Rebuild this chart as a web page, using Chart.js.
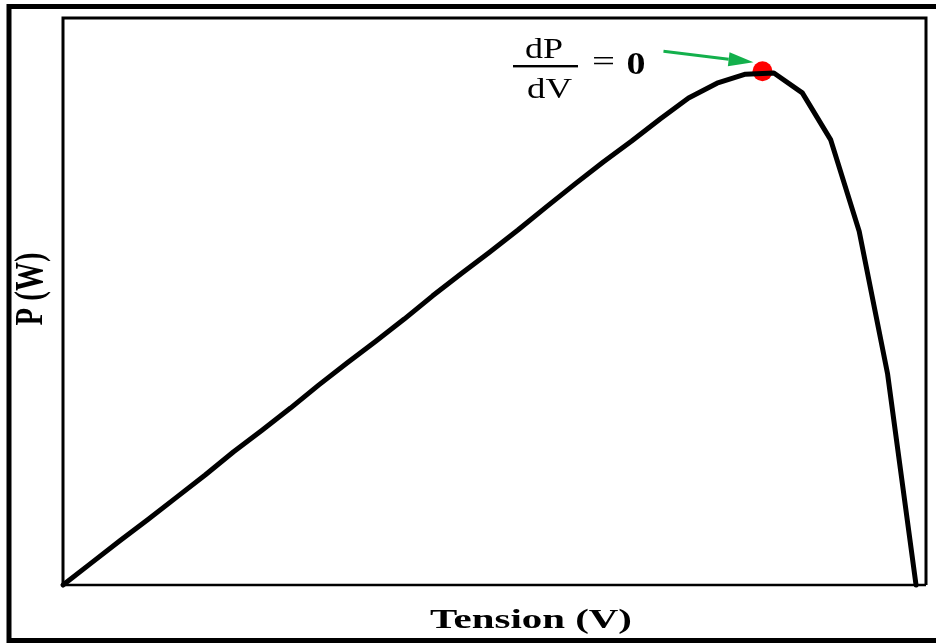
<!DOCTYPE html>
<html>
<head>
<meta charset="utf-8">
<script src="https://cdn.jsdelivr.net/npm/chart.js@4.4.1/dist/chart.umd.min.js"></script>
<style>
    html, body { margin: 0; padding: 0; background: #fff; }
    #wrap { width: 936px; height: 644px; position: relative; }
</style>
</head>
<body>
<div id="wrap"><canvas id="pvChart" width="936" height="644"></canvas></div>
<script>
// P-V curve of the panel (voltage steps, power)
const voltage = [0, 1, 2, 3, 4, 5, 6, 7, 8, 9, 10, 11, 12, 13, 14, 15,
                 16, 17, 18, 19, 20, 21, 22, 23, 24, 25, 26, 27, 28, 29, 30];
const power = [0, 3.9, 7.8, 11.6, 15.5, 19.4, 23.5, 27.3, 31.2, 35.3, 39.2,
               43.0, 46.9, 51.0, 54.9, 58.7, 62.6, 66.7, 70.7, 74.6, 78.3,
               82.2, 85.9, 88.5, 90.1, 90.3, 86.8, 78.5, 62.4, 37.2, 0];

// maximum power point
const mppVoltage = [24.6];
const mppPower = [90.6];

const axisTitleX = 'Tension (V)';
const axisTitleY = 'P (W)';

// draw text squeezed/stretched horizontally to a given width
function drawFit(ctx, text, font, cx, baseline, width) {
    ctx.save();
    ctx.font = font;
    const w = ctx.measureText(text).width;
    ctx.translate(cx, baseline);
    ctx.scale(width / w, 1);
    ctx.textAlign = 'center';
    ctx.textBaseline = 'alphabetic';
    ctx.fillText(text, 0, 0);
    ctx.restore();
}

const framePlugin = {
    id: 'frame',
    beforeDatasetsDraw(chart) {
        const ctx = chart.ctx;
        const a = chart.chartArea;
        ctx.save();
        ctx.strokeStyle = '#000';
        // outer border
        ctx.lineWidth = 5;
        ctx.strokeRect(9, 6.5, 1000, 634);
        // plot box
        ctx.lineWidth = 3;
        ctx.beginPath();
        ctx.moveTo(a.left, a.bottom);
        ctx.lineTo(a.left, a.top);
        ctx.lineTo(a.right, a.top);
        ctx.lineTo(a.right, a.bottom);
        ctx.stroke();
        ctx.lineWidth = 2.5;
        ctx.beginPath();
        ctx.moveTo(a.left, a.bottom);
        ctx.lineTo(a.right, a.bottom);
        ctx.stroke();

        // axis titles
        ctx.fillStyle = '#000';
        drawFit(ctx, axisTitleX, 'bold 28px "Liberation Serif"', 531, 628, 202);
        ctx.save();
        ctx.translate(42, 289);
        ctx.rotate(-Math.PI / 2);
        ctx.scale(1, 1.37);
        drawFit(ctx, axisTitleY, 'bold 29px "Liberation Serif"', 0, 0, 73);
        ctx.restore();
        ctx.restore();
    },
    afterDatasetsDraw(chart) {
        const ctx = chart.ctx;
        const dot = chart.getDatasetMeta(1).data[0];
        ctx.save();
        ctx.fillStyle = '#000';
        // dP/dV = 0 label
        drawFit(ctx, 'dP', '30px "Liberation Serif"', 544, 58, 38);
        drawFit(ctx, 'dV', '30px "Liberation Serif"', 549.5, 98, 45);
        ctx.fillRect(513, 65, 65, 2.4);
        drawFit(ctx, '=', '30px "Liberation Serif"', 603.5, 71, 23);
        drawFit(ctx, '0', 'bold 31px "Liberation Serif"', 636, 74, 19);

        // green arrow to the maximum point
        const tipX = dot.x - 9, tipY = dot.y - 9;
        const tailX = tipX - 90, tailY = tipY - 11;
        const ang = Math.atan2(tipY - tailY, tipX - tailX);
        const headLen = 25, headW = 7;
        ctx.strokeStyle = '#13b04c';
        ctx.fillStyle = '#13b04c';
        ctx.lineWidth = 3;
        ctx.beginPath();
        ctx.moveTo(tailX, tailY);
        ctx.lineTo(tipX - headLen * Math.cos(ang), tipY - headLen * Math.sin(ang));
        ctx.stroke();
        ctx.beginPath();
        ctx.moveTo(tipX, tipY);
        ctx.lineTo(tipX - headLen * Math.cos(ang) + headW * Math.sin(ang),
                   tipY - headLen * Math.sin(ang) - headW * Math.cos(ang));
        ctx.lineTo(tipX - headLen * Math.cos(ang) - headW * Math.sin(ang),
                   tipY - headLen * Math.sin(ang) + headW * Math.cos(ang));
        ctx.closePath();
        ctx.fill();
        ctx.restore();
    }
};

const ctx = document.getElementById('pvChart').getContext('2d');
new Chart(ctx, {
    type: 'line',
    data: {
        datasets: [
            {
                data: voltage.map((v, i) => ({ x: v, y: power[i] })),
                borderColor: '#000',
                borderWidth: 5,
                borderJoinStyle: 'round',
                borderCapStyle: 'round',
                pointRadius: 0,
                tension: 0,
                fill: false,
                clip: false
            },
            {
                type: 'scatter',
                data: mppVoltage.map((v, i) => ({ x: v, y: mppPower[i] })),
                backgroundColor: '#ff0000',
                borderColor: '#ff0000',
                borderWidth: 0,
                pointRadius: 10,
                clip: false
            }
        ]
    },
    options: {
        responsive: false,
        animation: false,
        events: [],
        layout: { padding: { left: 63, right: 5, top: 18, bottom: 59 } },
        plugins: {
            legend: { display: false },
            tooltip: { enabled: false }
        },
        scales: {
            x: { type: 'linear', min: 0, max: 30.35, display: false },
            y: { min: 0, max: 100, display: false }
        }
    },
    plugins: [framePlugin]
});
</script>
</body>
</html>
